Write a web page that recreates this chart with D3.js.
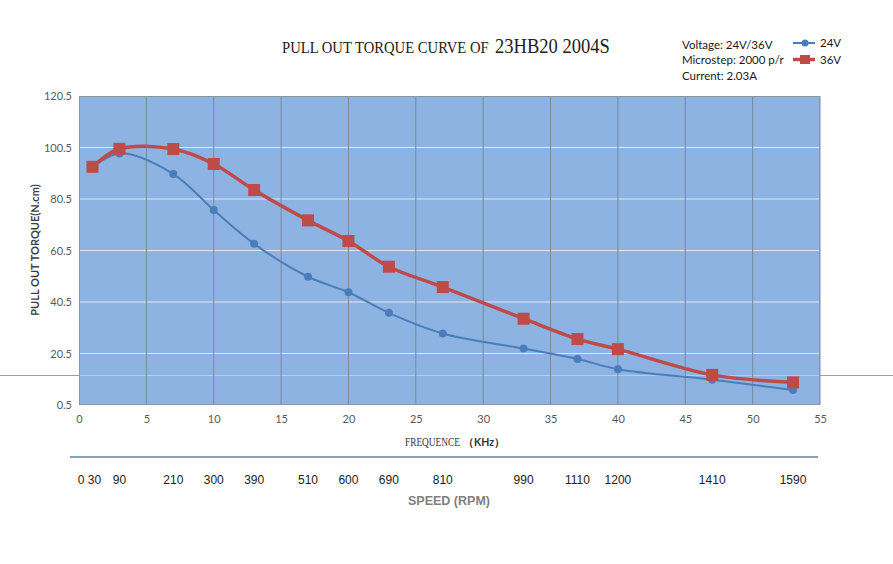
<!DOCTYPE html>
<html><head><meta charset="utf-8">
<script src="https://cdn.jsdelivr.net/npm/d3@7/dist/d3.min.js"></script>
<style>body{margin:0;background:#fff}svg{display:block}</style>
</head><body>
<svg id="c" width="893" height="564"></svg>
<script>
const freq = [1, 3, 7, 10, 13, 17, 20, 23, 27, 33, 37, 40, 47, 53];
const torque24 = [92.7, 98.2, 90.2, 76.2, 63.1, 50.3, 44.3, 36.3, 28.3, 22.4, 18.4, 14.4, 10.3, 6.3];
const torque36 = [93.0, 100.0, 99.9, 94.1, 84.0, 72.2, 64.2, 54.2, 46.3, 34.0, 26.1, 22.2, 12.2, 9.3];
const xTicks = [0, 5, 10, 15, 20, 25, 30, 35, 40, 45, 50, 55];
const yTicks = [0.5, 20.5, 40.5, 60.5, 80.5, 100.5, 120.5];
const speedLabels = [0, 30, 90, 210, 300, 390, 510, 600, 690, 810, 990, 1110, 1200, 1410, 1590];
const infoLines = ["Voltage: 24V/36V", "Microstep: 2000 p/r", "Current: 2.03A"];
const seriesNames = ["24V", "36V"];

const svg = d3.select("#c");
const L = 79, R = 820, T = 96, B = 405;
const x = d3.scaleLinear().domain([0, 55]).range([L, R]);
const y = d3.scaleLinear().domain([0.5, 120.5]).range([B, T]);
const blue = "#4a7ebb", red = "#be4b48";
const sans = "Lato, 'Open Sans', 'Liberation Sans', sans-serif";
const serif = "'Liberation Serif', 'DejaVu Serif', serif";

// plot background
svg.append("rect").attr("x", L).attr("y", T).attr("width", R - L).attr("height", B - T)
  .attr("fill", "#8db3e2");

// horizontal grid
svg.append("g").selectAll("line").data(yTicks.slice(1, -1)).join("line")
  .attr("x1", L).attr("x2", R).attr("y1", d => y(d)).attr("y2", d => y(d))
  .attr("stroke", "#dce7f4").attr("stroke-width", 1.2);

// stray horizontal line across the page
svg.append("line").attr("x1", 0).attr("x2", L).attr("y1", 375.5).attr("y2", 375.5)
  .attr("stroke", "#a0a0a0").attr("stroke-width", 1);
svg.append("line").attr("x1", R).attr("x2", 893).attr("y1", 375.5).attr("y2", 375.5)
  .attr("stroke", "#a0a0a0").attr("stroke-width", 1);
svg.append("line").attr("x1", L).attr("x2", R).attr("y1", 375.5).attr("y2", 375.5)
  .attr("stroke", "#ffffff").attr("stroke-opacity", 0.35).attr("stroke-width", 1);

// vertical grid
svg.append("g").selectAll("line").data(xTicks.slice(1)).join("line")
  .attr("x1", d => x(d)).attr("x2", d => x(d)).attr("y1", T).attr("y2", B)
  .attr("stroke", "#7a8899").attr("stroke-width", 1);

// plot border
svg.append("rect").attr("x", L + 0.5).attr("y", T + 0.5).attr("width", R - L - 1).attr("height", B - T - 1)
  .attr("fill", "none").attr("stroke", "#8a96a6").attr("stroke-width", 1);

// axes (labels only)
const yAxis = d3.axisLeft(y).tickValues(yTicks).tickSize(0).tickPadding(7).tickFormat(d3.format(".1f"));
const gy = svg.append("g").attr("transform", `translate(${L},0)`).call(yAxis);
gy.select(".domain").remove();
gy.selectAll("text").attr("font-family", sans).attr("font-size", 11).attr("fill", "#595959");

const xAxis = d3.axisBottom(x).tickValues(xTicks).tickSize(0).tickPadding(10);
const gx = svg.append("g").attr("transform", `translate(0,${B})`).call(xAxis);
gx.select(".domain").remove();
gx.selectAll("text").attr("font-family", sans).attr("font-size", 11).attr("fill", "#595959");

// lines
const line = d3.line().x(d => x(d[0])).y(d => y(d[1])).curve(d3.curveCatmullRom.alpha(0.5));
const d24 = freq.map((f, i) => [f, torque24[i]]);
const d36 = freq.map((f, i) => [f, torque36[i]]);

svg.append("path").datum(d24).attr("d", line).attr("fill", "none")
  .attr("stroke", blue).attr("stroke-width", 2);
svg.append("g").selectAll("circle").data(d24).join("circle")
  .attr("cx", d => x(d[0])).attr("cy", d => y(d[1])).attr("r", 4).attr("fill", blue);

svg.append("path").datum(d36).attr("d", line).attr("fill", "none")
  .attr("stroke", red).attr("stroke-width", 3.5);
svg.append("g").selectAll("rect").data(d36).join("rect")
  .attr("x", d => x(d[0]) - 6).attr("y", d => y(d[1]) - 6).attr("width", 12).attr("height", 12)
  .attr("fill", red);

// condensed text helper: scales horizontally to fit a target width
function condensed(tx, ty, w, size, family, str, weight) {
  const t = svg.append("text").attr("font-family", family).attr("font-size", size)
    .attr("fill", "#222").text(str);
  if (weight) t.attr("font-weight", weight);
  const nat = t.node().getComputedTextLength();
  t.attr("transform", `translate(${tx},${ty}) scale(${w / nat},1)`);
  return t;
}

// title
condensed(282, 52.5, 207, 17.5, serif, "PULL  OUT  TORQUE  CURVE  OF");
condensed(495, 53, 115, 21, serif, "23HB20  2004S");

// info text
svg.append("g").selectAll("text").data(infoLines).join("text")
  .attr("x", 682).attr("y", (d, i) => 48.5 + i * 15.8).attr("font-family", sans).attr("font-size", 11.5)
  .attr("fill", "#1a1a1a").text(d => d);

// legend
const lg = svg.append("g");
[0, 1].forEach(i => {
  const yy = 43 + i * 16.5;
  lg.append("line").attr("x1", 793).attr("x2", 815).attr("y1", yy).attr("y2", yy)
    .attr("stroke", i ? red : blue).attr("stroke-width", i ? 3.5 : 2);
  if (i) lg.append("rect").attr("x", 800).attr("y", yy - 4.5).attr("width", 10).attr("height", 9).attr("fill", red);
  else lg.append("circle").attr("cx", 805).attr("cy", yy).attr("r", 3.5).attr("fill", blue);
  lg.append("text").attr("x", 820).attr("y", yy + 4.2).attr("font-family", sans).attr("font-size", 11.5)
    .attr("fill", "#1a1a1a").text(seriesNames[i]);
});

// y axis title
svg.append("text").attr("transform", "translate(39,250) rotate(-90)").attr("text-anchor", "middle")
  .attr("font-family", sans).attr("font-weight", "bold").attr("font-size", 11).attr("fill", "#404040")
  .text("PULL OUT TORQUE(N.cm)");

// x axis title
condensed(405, 445.5, 55, 12, serif, "FREQUENCE").attr("fill", "#333");
svg.append("text").attr("x", 463).attr("y", 445.5).attr("fill", "#333").attr("font-family", sans)
  .attr("font-weight", "bold").attr("font-size", 10.5).text("（KHz）");

// speed axis
svg.append("line").attr("x1", 70).attr("x2", 818).attr("y1", 457).attr("y2", 457)
  .attr("stroke", "#5f83ad").attr("stroke-width", 1.5);
svg.append("g").selectAll("text").data(speedLabels).join("text")
  .attr("x", d => x(d / 30) + (d === 0 ? 2 : d === 30 ? 2 : 0)).attr("y", 483.5).attr("text-anchor", "middle")
  .attr("font-family", "'Liberation Sans', Arial, sans-serif")
  .attr("font-size", 12).attr("fill", "#222").text(d => d);
svg.append("text").attr("x", 449).attr("y", 505).attr("text-anchor", "middle")
  .attr("font-family", "'Liberation Sans', Arial, sans-serif").attr("font-weight", "bold")
  .attr("font-size", 12.5).attr("fill", "#808080").text("SPEED (RPM)");
</script>
</body></html>
